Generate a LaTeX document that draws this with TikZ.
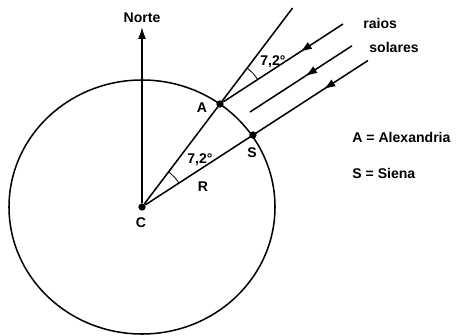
\documentclass[tikz,border=0pt]{standalone}
\usepackage{fontspec}
\setmainfont{Liberation Sans}
\usetikzlibrary{arrows.meta, decorations.markings}
\tikzset{
  dot/.style={circle, fill=black, inner sep=0pt, minimum size=2.2mm},
  lbl/.style={font=\fontsize{12}{14}\selectfont\bfseries, inner sep=1pt},
  edge/.style={line width=1.3pt},
  anglearc/.style={line width=0.7pt},
  northarrow/.style={line width=1.4pt, -{Latex[length=3.6mm, width=2.4mm]}},
  sunray/.style={line width=1.3pt, postaction={decorate},
    decoration={markings, mark=at position #1 with {\arrow{Latex[length=3.6mm, width=2.4mm]}}}}
}

\begin{document}
\begin{tikzpicture}[x=0.03cm, y=0.03cm]
\useasboundingbox (0,0) rectangle (459,335);
% earth and the two towns
\draw[edge] (142,128) ellipse [x radius=133, y radius=127];
\node[dot] (C) at (142,128) {};
\node[dot] (A) at (220,231) {};
\node[dot] (S) at (253,200) {};
\coordinate (north) at (142,308);
\coordinate (zenA) at (292.6,327);
\coordinate (ray1) at (343,311);
\coordinate (ray2a) at (352,289.2);
\coordinate (ray2b) at (250,223);
\coordinate (ray3) at (368,274.5);
% lines
\draw[northarrow] (C) -- (north);
\draw[edge] (C) -- (zenA);
\draw[sunray=0.36] (ray1) -- (A);
\draw[sunray=0.46] (ray2a) -- (ray2b);
\draw[sunray=0.2] (ray3) -- (C);
% angles
\draw[anglearc] (A.center) ++(33:45) arc[start angle=33, end angle=53, radius=45];
\draw[anglearc] (C.center) ++(33:44) arc[start angle=33, end angle=53, radius=44];
% labels
\node[lbl] (nlbl) at (142,317) {Norte};
\node[lbl] (albl) at (202,227) {A};
\node[lbl] (slbl) at (252,182) {S};
\node[lbl] (clbl) at (141,112) {C};
\node[lbl] (rlbl) at (203,148) {R};
\node[lbl] (angtop) at (273,273) {7,2°};
\node[lbl] (angbot) at (200,175) {7,2°};
\node[lbl, anchor=west] (raios) at (362,312) {raios};
\node[lbl, anchor=west] (solares) at (368,288) {solares};
\node[lbl, anchor=west] (alex) at (351,198) {A = Alexandria};
\node[lbl, anchor=west] (siena) at (351,162) {S = Siena};
\end{tikzpicture}
\end{document}
